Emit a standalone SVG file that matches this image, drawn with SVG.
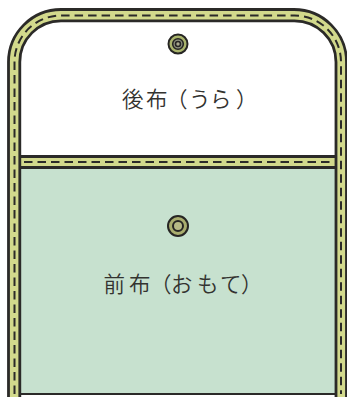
<svg xmlns="http://www.w3.org/2000/svg" width="347" height="398" viewBox="0 0 347 398">
<style>
.t{font-family:"Noto Sans CJK JP","Noto Sans",sans-serif;font-size:21.500px;fill:#333330;font-weight:350}
.o{stroke:#2b2a28;stroke-width:2.800;fill:none}
.d{stroke:#2b2a28;stroke-width:2;fill:none;stroke-dasharray:8.500 5}
.r1{stroke:#262523;stroke-width:1.600}
</style>
<rect width="347" height="398" fill="#fff"/>
<g id="front-panel"><rect x="20" y="167" width="316" height="227" fill="#c7e1cf"/></g>
<g id="binding">
<path d="M14 397V62A47 47 0 0 1 61 15H294A47 47 0 0 1 341 62V397" fill="none" stroke="#d2d98c" stroke-width="12"/>
<rect x="20" y="157" width="316" height="10" fill="#d2d98c"/>
<path class="o" d="M8.500 397V62A52.500 52.500 0 0 1 61 9.500H294A52.500 52.500 0 0 1 346.500 62V397"/>
<path class="o" d="M19.800 397V62A41.200 41.200 0 0 1 61 20.800H294A41.700 41.200 0 0 1 336 62V397"/>
<path class="o" d="M20 156.500H336M20 167.500H336"/>
<path d="M20 394H336" stroke="#2b2a28" stroke-width="2" fill="none"/>
<path class="d" d="M14.500 394V62A46.500 46.500 0 0 1 61 15.500H294A46.500 46.500 0 0 1 341 62V394"/>
<path class="d" d="M24 162H334"/>
</g>
<g id="snap-back">
<circle cx="178" cy="44" r="9.500" fill="#a9b46c" stroke="#262523" stroke-width="2"/>
<circle cx="178" cy="44" r="5.300" fill="#8f9480" class="r1"/>
<circle cx="178" cy="44" r="2.500" fill="#a9a98f" class="r1"/>
</g>
<g id="snap-front">
<circle cx="178" cy="226" r="10" fill="#a9ad6e" stroke="#262523" stroke-width="2"/>
<circle cx="178" cy="226" r="5" fill="#b7ba86" stroke="#262523" stroke-width="2"/>
</g>
<g id="label-back"><text class="t" x="122 146 166 189 210 236" y="106.500">後布（うら）</text></g>
<g id="label-front"><text class="t" x="103.500 129 150 171 197 220 241" y="291.500">前布（おもて）</text></g>
</svg>
